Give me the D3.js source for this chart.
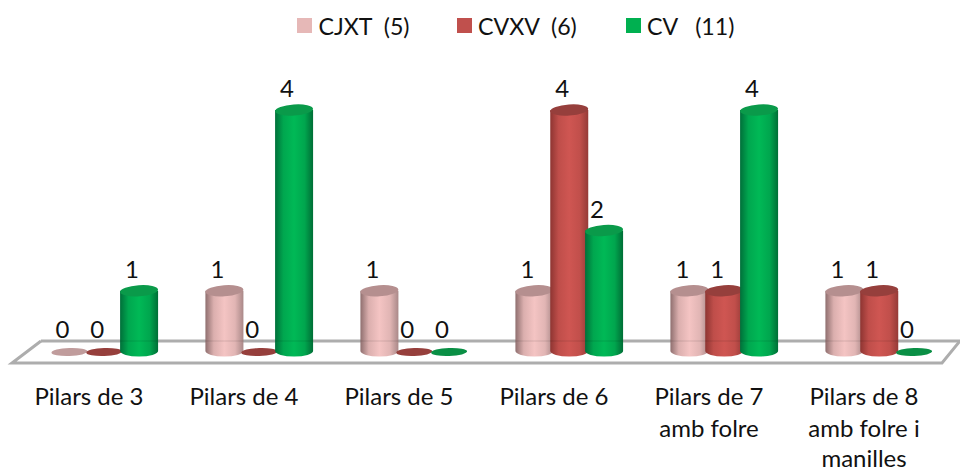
<!DOCTYPE html>
<html><head><meta charset="utf-8">
<style>html,body{margin:0;padding:0;background:#fff}svg{display:block}text{font-family:Lato,"Open Sans",sans-serif;fill:#111}</style>
<script src="https://cdn.jsdelivr.net/npm/d3@7/dist/d3.min.js"></script></head>
<body><svg id="c" width="960" height="472"></svg>
<script>
const categories = [["Pilars de 3"],["Pilars de 4"],["Pilars de 5"],["Pilars de 6"],["Pilars de 7","amb folre"],["Pilars de 8","amb folre i","manilles"]];
const seriesNames = ["CJXT  (5)","CVXV  (6)","CV   (11)"];
const cjxt = [0,1,1,1,1,1];
const cvxv = [0,0,0,4,1,1];
const cv   = [1,4,0,2,4,0];
const seriesValues = [cjxt,cvxv,cv];
const legendColors = ["#e6b8b7","#c0504d","#00b050"];
const shades = [["#8f6f6f","#f4c4c3","#a98888"],["#8e3532","#cf5652","#953a37"],["#00703a","#00b956","#006e36"]];
const topColors = ["#b58f8f","#963f3c","#0a9a4a"];
const zeroColors = ["#c09c9c","#963f3c","#0a8f45"];

const svg = d3.select("#c");
const defs = svg.append("defs");
shades.forEach((s,i)=>{
  const g = defs.append("linearGradient").attr("id","g"+i);
  [[0,s[0]],[.22,d3.interpolateRgb(s[0],s[1])(.75)],[.5,s[1]],[.78,d3.interpolateRgb(s[2],s[1])(.75)],[1,s[2]]]
    .forEach(d=>g.append("stop").attr("offset",d[0]).attr("stop-color",d[1]));
});

const x0 = d3.scaleBand().domain(d3.range(6)).range([52,982]);
const x1 = d3.scaleBand().domain(d3.range(3)).range([0,104.5]);
const y = d3.scaleLinear().domain([0,4]).range([351,110]);
const rx = 19, ry = 5.5, tilt = -4;
const fs = 24;

// legend
const legendX = [297,457,626], legendTextX = [318.5,478,647];
const leg = svg.append("g");
seriesNames.forEach((n,i)=>{
  leg.append("rect").attr("x",legendX[i]).attr("y",18).attr("width",15).attr("height",15).attr("fill",legendColors[i]);
  leg.append("text").attr("x",legendTextX[i]).attr("y",35).attr("font-size",23.2).style("white-space","pre").text(n);
});

// floor
const floorBack = [[41,341],[960,341]];
const floorFront = [[960,341],[942,363],[12,363],[41,341]];
svg.append("path").attr("d",d3.line()(floorBack)).attr("stroke","#adadad").attr("stroke-width",3).attr("fill","none");
svg.append("path").attr("d",d3.line()(floorFront)).attr("stroke","#adadad").attr("stroke-width",3).attr("fill","none");

// bars
const marks = svg.append("g");
const items = [];
seriesValues.forEach((vals,s)=>vals.forEach((v,c)=>items.push({s,c,v})));
items.sort((a,b)=>a.c-b.c||a.s-b.s);
items.forEach(d=>{
  const cx = x0(d.c)+x1(d.s)+x1.bandwidth()/2;
  const yt = y(d.v), yb = y(0);
  if(d.v===0){
    marks.append("ellipse").attr("cx",cx).attr("cy",yb+1).attr("rx",rx-1).attr("ry",4)
      .attr("transform",`rotate(-2 ${cx} ${yb})`).attr("fill",zeroColors[d.s]);
  } else {
    marks.append("path")
      .attr("d",`M${cx-rx},${yt}L${cx-rx},${yb}A${rx},${ry} 0 0 0 ${cx+rx},${yb}L${cx+rx},${yt}Z`)
      .attr("fill",`url(#g${d.s})`);
    marks.append("ellipse").attr("cx",cx).attr("cy",yt).attr("rx",rx).attr("ry",ry)
      .attr("transform",`rotate(${tilt} ${cx} ${yt})`).attr("fill",topColors[d.s]);
    marks.append("path").attr("d",d3.line()([[cx-rx,341],[cx+rx,341]]))
      .attr("stroke","#000").attr("stroke-opacity",.06).attr("stroke-width",2);
  }
});
items.forEach(d=>{
  const cx = x0(d.c)+x1(d.s)+x1.bandwidth()/2;
  svg.append("text").attr("x",cx-7).attr("y",y(d.v)-13).attr("text-anchor","middle").attr("font-size",fs).text(d.v);
});

// categories
const lineY = [405,437,466.5];
categories.forEach((lines,c)=>{
  const cx = x0(c)+37;
  lines.forEach((t,i)=>svg.append("text").attr("x",cx).attr("y",lineY[i]).attr("text-anchor","middle").attr("font-size",fs).text(t));
});
</script></body></html>
